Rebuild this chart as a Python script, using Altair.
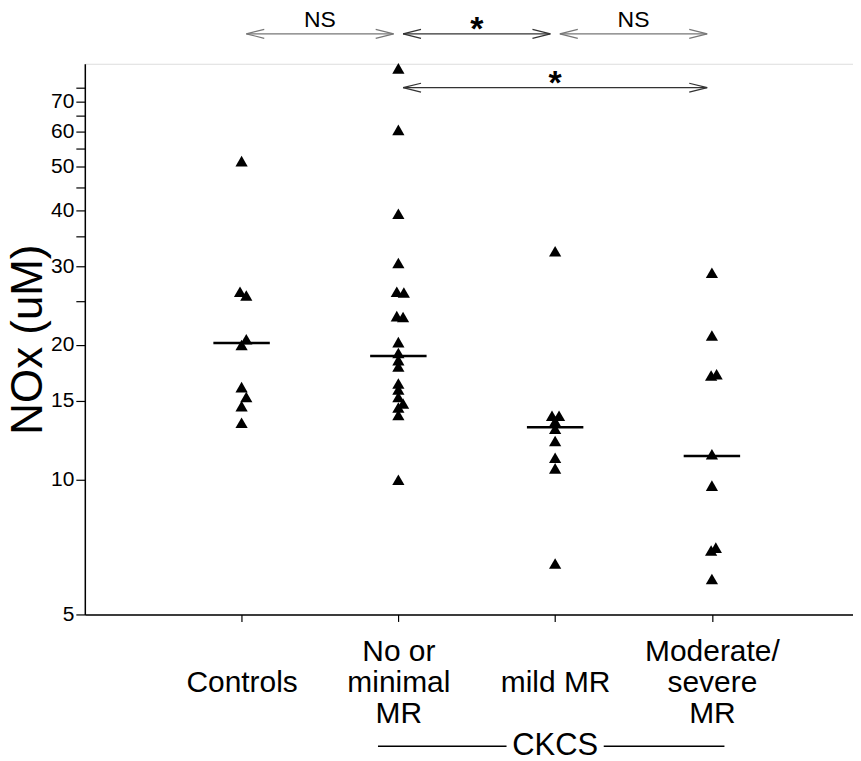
import json
import altair as alt
import pandas as pd

# ---------------- data ----------------
categories = ["Controls", "No or minimal MR", "mild MR", "Moderate/severe MR"]
axis_labels = [["", "Controls"], ["No or", "minimal", "MR"], ["", "mild MR"], ["Moderate/", "severe", "MR"]]

controls = [51.5, 26.3, 25.8, 20.6, 20.0, 16.1, 15.3, 14.6, 13.4]
controls_jitter = [0, -0.01, 0.03, 0.03, 0, 0, 0.03, 0, 0]

no_minimal = [83.0, 60.5, 39.3, 30.5, 26.3, 26.2, 23.2, 23.1, 20.3, 19.2, 18.5,
              17.9, 16.4, 15.9, 15.3, 14.8, 14.5, 13.95, 10.0]
no_minimal_jitter = [0, 0, 0, 0, -0.01, 0.035, -0.01, 0.03, 0, 0, 0,
                     0, 0, 0, 0, 0.03, 0, 0, 0]

mild = [32.4, 13.9, 13.9, 13.5, 13.0, 12.2, 11.2, 10.6, 6.5]
mild_jitter = [0, -0.02, 0.025, 0, 0, 0, 0, 0, 0]

moderate = [29.0, 21.0, 17.2, 17.1, 11.4, 9.7, 7.05, 6.95, 6.0]
moderate_jitter = [0, 0, 0.03, -0.005, 0, 0, 0.025, -0.005, 0]

medians = [20.2, 18.9, 13.1, 11.3]

y_tick_values = [5, 10, 15, 20, 25, 30, 35, 40, 45, 50, 55, 60, 65, 70, 75]
y_label_values = [5, 10, 15, 20, 30, 40, 50, 60, 70]

row1 = [(1, 2, "NS"), (2, 3, "*"), (3, 4, "NS")]
row2 = [(2, 4, "*")]
group_label = "CKCS"
group_span = (1.87, 4.08)

# ---------------- tables ----------------
groups = [controls, no_minimal, mild, moderate]
jitters = [controls_jitter, no_minimal_jitter, mild_jitter, moderate_jitter]
rows = []
for i, (vals, jit) in enumerate(zip(groups, jitters)):
    for v, j in zip(vals, jit):
        rows.append({"group": categories[i], "pos": i + 1 + j, "nox": v})
points_df = pd.DataFrame(rows)
med_df = pd.DataFrame({"group": categories, "pos": [i + 1 for i in range(4)], "nox": medians})

def comp_df(rows_):
    return pd.DataFrame([{"a": a + 0.03, "b": b - 0.03, "mid": (a + b) / 2, "label": l,
                          "col": "#777" if l == "NS" else "#333"} for a, b, l in rows_])

r1 = comp_df(row1)
r2 = comp_df(row2)

FONT = "Liberation Sans"
label_expr = " : ".join(
    f"datum.value == {i + 1} ? {json.dumps(l)}" for i, l in enumerate(axis_labels)
) + " : ''"

xs = alt.Scale(domain=[0, 4.9], nice=False, zero=False)
ys = alt.Scale(type="log", domain=[5, 85], nice=False)

x_axis = alt.Axis(
    title=None, values=[1, 2, 3, 4], labelExpr=label_expr, grid=False,
    tickSize=7, tickColor="black", tickWidth=1.2, domainColor="black", domainWidth=1.5,
    labelFont=FONT, labelFontSize=30, labelColor="black", labelLineHeight=31,
    labelBaseline="middle", labelPadding=30, labelAlign="center", labelFlush=False,
    labelOverlap=False,
)
y_axis = alt.Axis(
    title="NOx (uM)", values=y_tick_values,
    labelExpr=f"indexof({json.dumps(y_label_values)}, datum.value) >= 0 ? datum.value : ''",
    grid=False, tickSize=9, tickColor="black", tickWidth=1.2, domainColor="black",
    domainWidth=1.5, labelFont=FONT, labelFontSize=21, labelColor="black", labelPadding=2,
    titleFont=FONT, titleFontSize=44, titleFontWeight="normal", titleColor="black",
    titlePadding=0, labelOverlap=False,
)

pts = alt.Chart(points_df).mark_point(
    shape="triangle-up", filled=True, size=150, color="black", opacity=1
).encode(
    x=alt.X("pos:Q", scale=xs, axis=x_axis),
    y=alt.Y("nox:Q", scale=ys, axis=y_axis),
)

med = alt.Chart(med_df).transform_calculate(
    left="datum.pos - 0.18", right="datum.pos + 0.18"
).mark_rule(color="black", strokeWidth=2.5).encode(
    x=alt.X("left:Q", scale=xs, axis=x_axis),
    x2="right:Q",
    y=alt.Y("nox:Q", scale=ys, axis=y_axis),
)

def arrow_layers(df, ypix, text_y_ns, text_y_star):
    col = alt.Color("col:N", scale=None)
    line = alt.Chart(df).mark_rule(strokeWidth=1.2).encode(
        x=alt.X("a:Q", scale=xs, axis=x_axis), x2="b:Q", y=alt.value(ypix), color=col)
    lh = alt.Chart(df).mark_point(
        shape="M0,0L2,-0.5M0,0L2,0.5", filled=False, size=324,
        strokeWidth=1.2, opacity=1).encode(
        x=alt.X("a:Q", scale=xs, axis=x_axis), y=alt.value(ypix), color=col)
    rh = alt.Chart(df).mark_point(
        shape="M0,0L-2,-0.5M0,0L-2,0.5", filled=False, size=324,
        strokeWidth=1.2, opacity=1).encode(
        x=alt.X("b:Q", scale=xs, axis=x_axis), y=alt.value(ypix), color=col)
    ns = alt.Chart(df).transform_filter("datum.label != '*'").mark_text(
        font=FONT, fontSize=23, color="black", baseline="alphabetic").encode(
        x=alt.X("mid:Q", scale=xs, axis=x_axis), y=alt.value(text_y_ns), text="label:N")
    star = alt.Chart(df).transform_filter("datum.label == '*'").mark_text(
        font=FONT, fontSize=34, fontWeight="bold", color="black", baseline="alphabetic").encode(
        x=alt.X("mid:Q", scale=xs, axis=x_axis), y=alt.value(text_y_star), text="label:N")
    return [line, lh, rh, ns, star]

group_df = pd.DataFrame({"a": [group_span[0], 3.31], "b": [2.69, group_span[1]]})
group_lines = alt.Chart(group_df).mark_rule(color="black", strokeWidth=1.5).encode(
    x=alt.X("a:Q", scale=xs, axis=x_axis), x2="b:Q", y=alt.value(684))
group_text = alt.Chart(pd.DataFrame({"mid": [(2 + 4) / 2], "label": [group_label]})).mark_text(
    font=FONT, fontSize=31, color="black", baseline="middle").encode(
    x=alt.X("mid:Q", scale=xs, axis=x_axis), y=alt.value(684), text="label:N")

layers = [med, pts] + arrow_layers(r1, -30, -37, -24) + arrow_layers(r2, 24, 20, 30) + [group_lines, group_text]

chart = alt.layer(*layers).properties(
    width=770, height=552,
    padding={"left": 77, "top": 55, "right": 0, "bottom": 140},
    autosize=alt.AutoSizeParams(type="none"),
).configure_view(stroke=None).configure(background="white")

chart.save("out.html", embed_options={"renderer": "svg", "actions": False})
